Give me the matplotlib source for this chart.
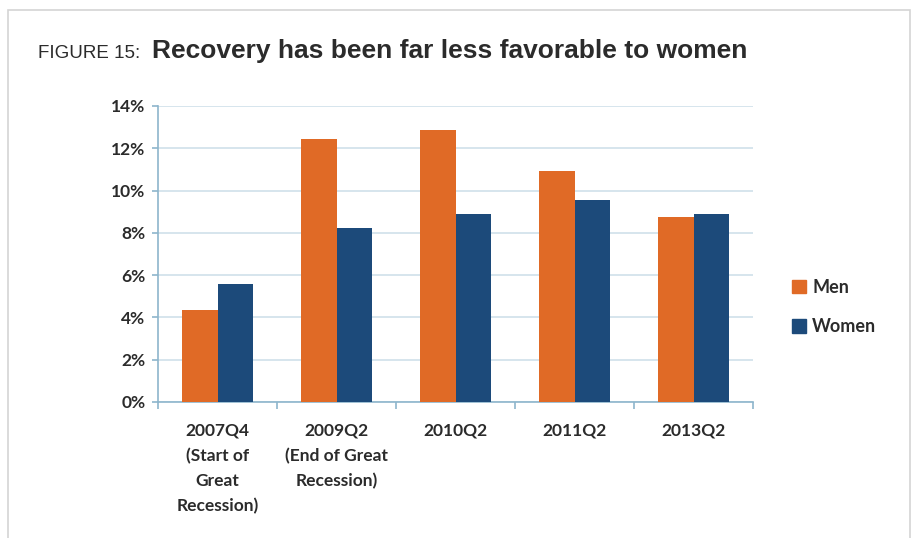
import matplotlib
matplotlib.use("Agg")
import matplotlib.pyplot as plt
from matplotlib.patches import Rectangle, Patch
import numpy as np

# unemployment rate by period
periods = ["2007Q4\n(Start of\nGreat\nRecession)", "2009Q2\n(End of Great\nRecession)",
           "2010Q2", "2011Q2", "2013Q2"]
men = [4.35, 12.43, 12.87, 10.93, 8.77]
women = [5.58, 8.25, 8.89, 9.57, 8.88]
yticks = [0, 2, 4, 6, 8, 10, 12, 14]

orange = "#E06A26"
navy = "#1C4A7A"
axis_col = "#8DB5CC"
grid_col = "#CFE0EA"
txt = "#2b2b2b"

W, H = 917, 538
fig = plt.figure(figsize=(W / 100, H / 100), dpi=100)

# light frame around the figure, open at the bottom
fig.patches.append(Rectangle((8 / W, -0.1), (910 - 8) / W, 1.1 - 10 / H,
                             transform=fig.transFigure, fill=False,
                             edgecolor="#d4d4d4", linewidth=1.2))

fig.text(38 / W, 1 - 58 / H, "FIGURE 15:", fontsize=13.5, color=txt,
         family="Liberation Sans", va="baseline")
fig.text(152 / W, 1 - 58 / H, "Recovery has been far less favorable to women",
         fontsize=19, color=txt, family="Liberation Sans", weight="bold",
         va="baseline")

ax = fig.add_axes([158 / W, 1 - 402 / H, (753 - 158) / W, (402 - 106) / H])

x = np.arange(len(periods))
w = 0.295
ax.bar(x - w / 2, men, w, color=orange, label="Men", zorder=3)
ax.bar(x + w / 2, women, w, color=navy, label="Women", zorder=3)

ax.set_xlim(-0.5, len(periods) - 0.5)
ax.set_ylim(0, 14)
ax.set_yticks(yticks)
ax.set_yticklabels([f"{v}%" for v in yticks])
ax.set_xticks(x)
ax.set_xticklabels(periods, linespacing=1.68)
ax.set_xticks(np.arange(-0.5, len(periods)), minor=True)

for s in ["top", "right"]:
    ax.spines[s].set_visible(False)
for s in ["left", "bottom"]:
    ax.spines[s].set_color(axis_col)
    ax.spines[s].set_linewidth(1.2)

ax.grid(axis="y", color=grid_col, linewidth=1.2, zorder=0)
ax.tick_params(axis="x", which="major", length=0, pad=15)
ax.tick_params(axis="x", which="minor", length=5, color=axis_col, width=1.2)
ax.tick_params(axis="y", length=4, color=axis_col, width=1.2, pad=5)
for lab in ax.get_xticklabels() + ax.get_yticklabels():
    lab.set_family("Lato")
    lab.set_weight("bold")
    lab.set_fontsize(12.5)
    lab.set_color(txt)

handles = [Patch(color=orange, label="Men"), Patch(color=navy, label="Women")]
fig.legend(handles=handles, loc="center left",
           bbox_to_anchor=(776 / W, 1 - 307 / H), frameon=False,
           handlelength=0.75, handleheight=0.75, handletextpad=0.35,
           labelspacing=1.25, prop={"family": "Lato", "weight": "bold", "size": 13},
           labelcolor=txt)

fig.savefig("out.png", dpi=100)
